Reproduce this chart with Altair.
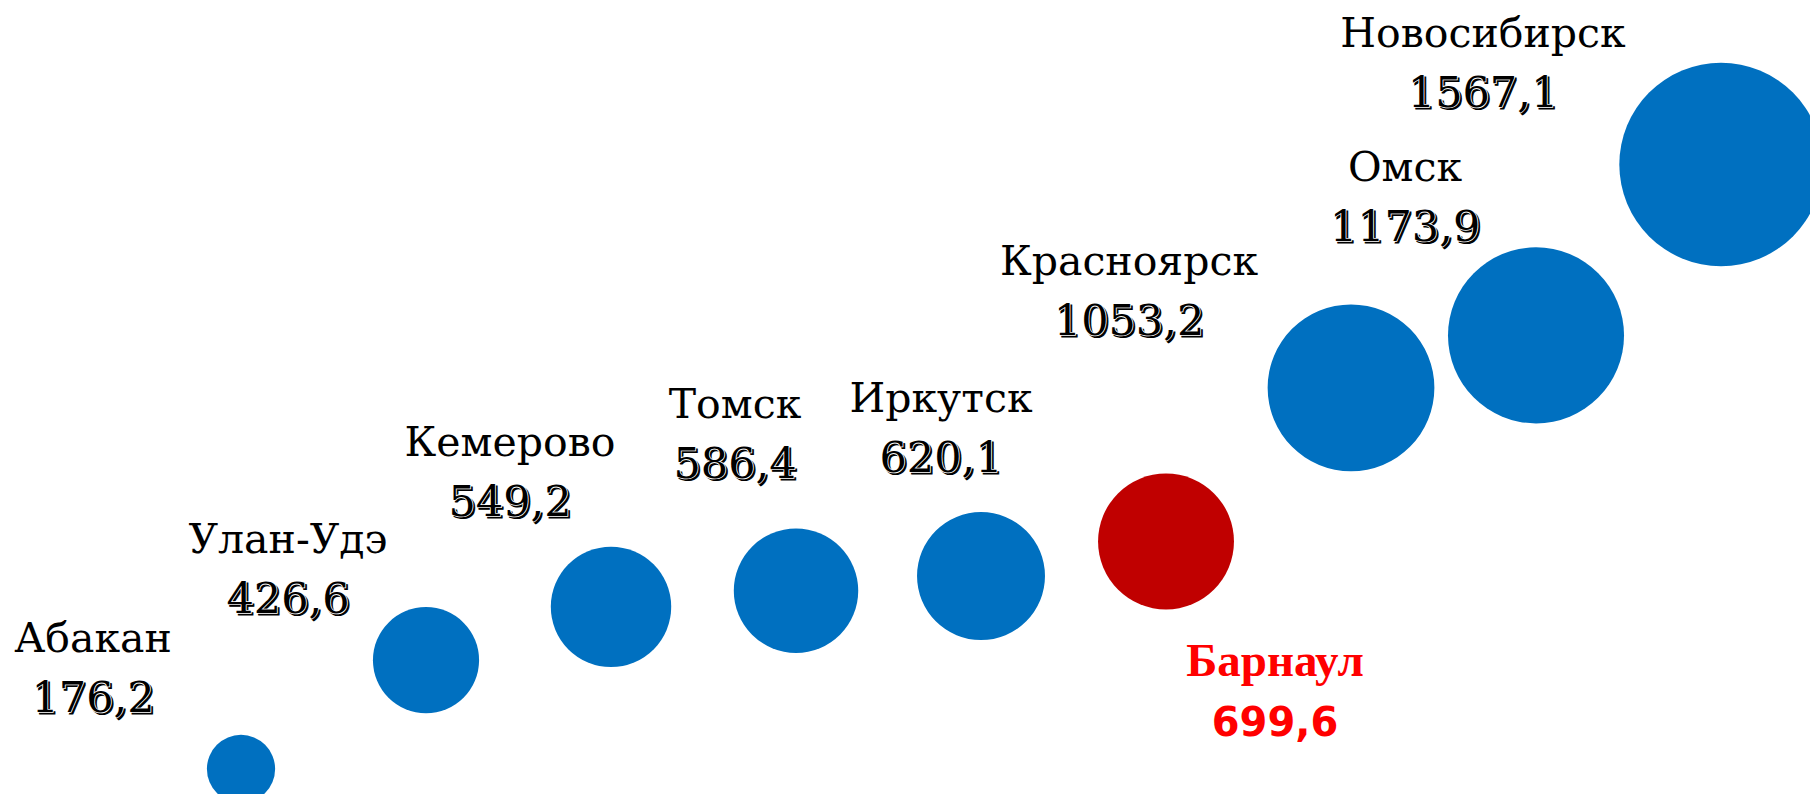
import altair as alt
import pandas as pd

# ---- data ----
cities = ["Абакан", "Улан-Удэ", "Кемерово", "Томск", "Иркутск",
          "Барнаул", "Красноярск", "Омск", "Новосибирск"]
values = [176.2, 426.6, 549.2, 586.4, 620.1, 699.6, 1053.2, 1173.9, 1567.1]
highlight = "Барнаул"

# ---- layout (label offsets from bubble centre, in pixels) ----
label_dx = [-148, -138, -101, -61, -40, 109, -222, -131, -238]
label_dy = [-117, -107, -151, -173, -164, 134, -113, -154, -117]
LINE_GAP = 60

W, H = 1802, 786
X_DOMAIN = [-1.2595, 8.481]
Y_DOMAIN = [118.6, 1927.2]
PX_X = W / (X_DOMAIN[1] - X_DOMAIN[0])
PX_Y = H / (Y_DOMAIN[1] - Y_DOMAIN[0])

df = pd.DataFrame({
    "idx": list(range(len(cities))),
    "city": cities,
    "value": values,
})
df["label"] = [f"{v:.1f}".replace(".", ",") for v in values]
df["lx"] = df["idx"] + pd.Series(label_dx) / PX_X
df["ly_name"] = df["value"] - pd.Series(label_dy) / PX_Y
df["ly_val"] = df["value"] - (pd.Series(label_dy) + LINE_GAP) / PX_Y

xs = alt.Scale(domain=X_DOMAIN)
ys = alt.Scale(domain=Y_DOMAIN)

base = alt.Chart(df)

bubbles = base.mark_circle(opacity=1).encode(
    x=alt.X("idx:Q", scale=xs, axis=None),
    y=alt.Y("value:Q", scale=ys, axis=None),
    size=alt.Size("value:Q", scale=alt.Scale(domain=[0, 1600], range=[0, 42240]), legend=None),
    color=alt.condition(alt.datum.city == highlight, alt.value("#C00000"), alt.value("#0070C0")),
)

normal = base.transform_filter(alt.datum.city != highlight)
hl = base.transform_filter(alt.datum.city == highlight)

names = normal.mark_text(font="DejaVu Serif", fontSize=41, align="center",
                         baseline="alphabetic", color="black").encode(
    x=alt.X("lx:Q", scale=xs, axis=None),
    y=alt.Y("ly_name:Q", scale=ys, axis=None),
    text="city:N",
)

def val_layer(**kw):
    return normal.mark_text(font="DejaVu Serif", fontSize=43, align="center",
                            baseline="alphabetic", **kw).encode(
        x=alt.X("lx:Q", scale=xs, axis=None),
        y=alt.Y("ly_val:Q", scale=ys, axis=None),
        text="label:N",
    )

val_shadow = val_layer(color="black", stroke="black", strokeWidth=1.2, dx=2, dy=2)
val_halo = val_layer(color="white", stroke="white", strokeWidth=1.6)
val_top = val_layer(color="black")

hl_name = hl.mark_text(font="Liberation Serif", fontWeight="bold", fontSize=47,
                       align="center", baseline="alphabetic", color="#FF0000").encode(
    x=alt.X("lx:Q", scale=xs, axis=None),
    y=alt.Y("ly_name:Q", scale=ys, axis=None),
    text="city:N",
)
hl_val = hl.mark_text(font="DejaVu Sans", fontWeight="bold", fontSize=40,
                      align="center", baseline="alphabetic", color="#FF0000").encode(
    x=alt.X("lx:Q", scale=xs, axis=None),
    y=alt.Y("ly_val:Q", scale=ys, axis=None),
    text="label:N",
)

chart = alt.layer(bubbles, names, val_shadow, val_halo, val_top, hl_name, hl_val).properties(
    width=W, height=H, padding=0, autosize=alt.AutoSizeParams(type="none"),
    background="white",
).configure_view(stroke=None)

chart.save("out.html", embed_options={"renderer": "svg", "actions": False})
